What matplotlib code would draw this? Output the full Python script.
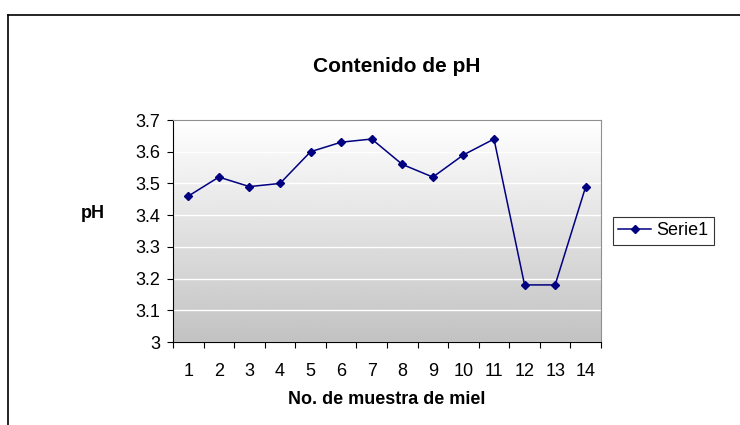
import numpy as np
import matplotlib.pyplot as plt
from matplotlib.lines import Line2D

plt.rcParams['font.family'] = ['Liberation Sans', 'DejaVu Sans']

# pH por muestra de miel
muestras = list(range(1, 15))
ph = [3.46, 3.52, 3.49, 3.50, 3.60, 3.63, 3.64, 3.56, 3.52, 3.59, 3.64, 3.18, 3.18, 3.49]
yticks = [3, 3.1, 3.2, 3.3, 3.4, 3.5, 3.6, 3.7]

W, H = 740, 425
fig = plt.figure(figsize=(7.4, 4.25), dpi=100)
ax = fig.add_axes([173/W, 1 - 342/H, (601 - 173)/W, (342 - 120)/H])

# fondo degradado blanco -> gris
grad = np.linspace(0, 1, 256).reshape(-1, 1)
ax.imshow(grad, cmap='gray', vmin=-3.2, vmax=1.0, aspect='auto',
          extent=(0.5, 14.5, 3.0, 3.7), origin='lower', zorder=0, interpolation='bicubic')

ax.plot(muestras, ph, color='#000080', lw=1.1, marker='D', ms=3.8, label='Serie1', zorder=3)

ax.set_xlim(0.5, 14.5)
ax.set_ylim(3.0, 3.7)
ax.set_yticks(yticks)
ax.set_yticklabels([('%g' % v) for v in yticks])
ax.set_xticks(muestras)
ax.set_xticks(np.arange(0.5, 15, 1), minor=True)
ax.tick_params(axis='x', which='major', length=0, pad=15, labelsize=13)
ax.tick_params(axis='x', which='minor', length=4, width=0.8, direction='out')
ax.tick_params(axis='y', length=4, width=0.8, labelsize=13, pad=5)

ax.grid(axis='y', color='white', lw=1)
ax.set_axisbelow(True)
for s in ['top', 'right']:
    ax.spines[s].set_color('#909090')
for s in ['left', 'bottom']:
    ax.spines[s].set_color('black')

ax.set_xlabel('No. de muestra de miel', fontweight='bold', fontsize=13, va='center')
ax.xaxis.set_label_coords(0.5, (342 - 400) / 222)
ax.set_ylabel('pH', fontweight='bold', fontsize=13, rotation=0, va='center', ha='center')
ax.yaxis.set_label_coords((93 - 173) / 428, (342 - 214) / 222)
fig.text(397/W, 1 - 66/H, 'Contenido de pH', ha='center', va='center',
         fontweight='bold', fontsize=15)

leg = ax.legend(loc='upper left', bbox_to_anchor=((613 - 173) / 428, (342 - 217) / 222),
                borderaxespad=0, frameon=True, fancybox=False, edgecolor='black',
                fontsize=13, handlelength=1.8, handletextpad=0.3, borderpad=0.3)
leg.get_frame().set_linewidth(0.8)

# marco exterior
fig.add_artist(Line2D([8/W, 8/W], [0, 1 - 15/H], color='black', lw=1.2))
fig.add_artist(Line2D([8/W, 1], [1 - 15/H, 1 - 15/H], color='black', lw=1.2))

fig.savefig('out.png', dpi=100)
